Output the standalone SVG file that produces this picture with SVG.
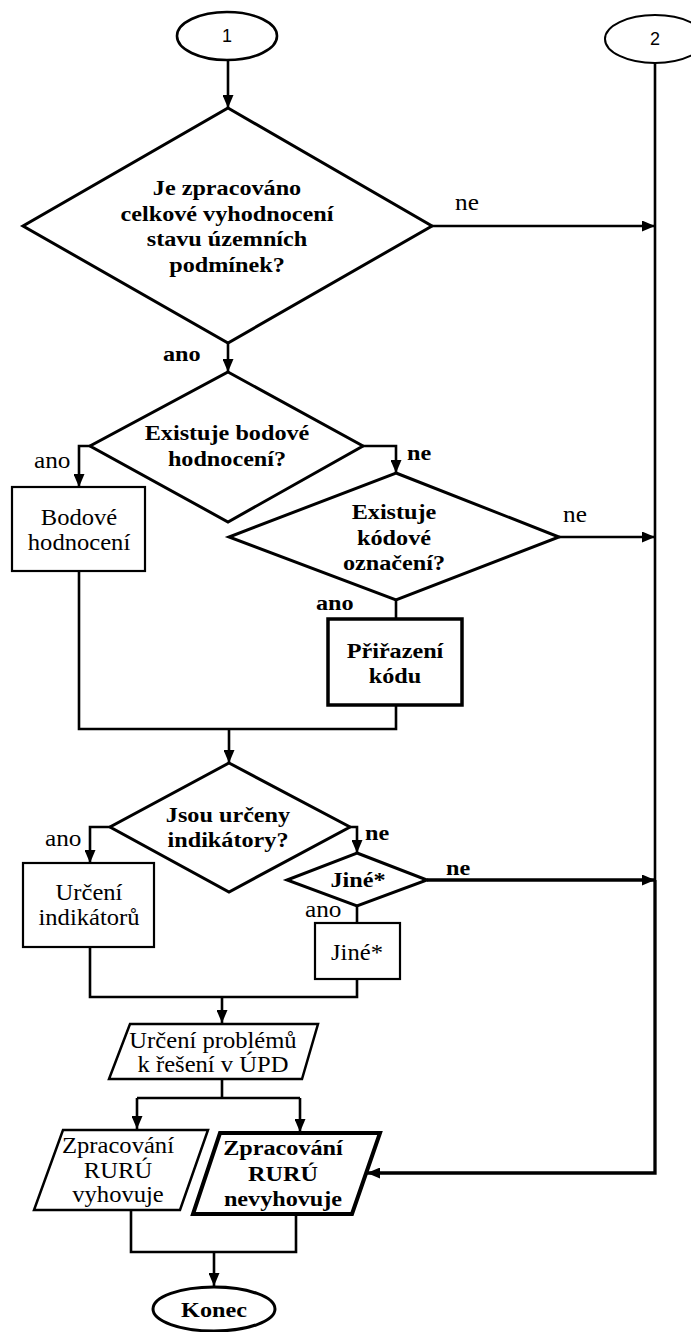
<svg xmlns="http://www.w3.org/2000/svg" width="691" height="1332" viewBox="0 0 691 1332">
  <style>
    .shape { fill: #fff; stroke: #000; stroke-linejoin: miter; }
    .t { font-family: "Liberation Serif", "Times New Roman", serif; font-size: 23px; fill: #000; text-anchor: middle; }
    .b { font-weight: bold; font-size: 22px; }
    .lbl { font-family: "Liberation Serif", "Times New Roman", serif; font-size: 23px; fill: #000; }
    .lbl.b { font-size: 22px; }
    .num { font-family: "Liberation Sans", Arial, sans-serif; font-size: 18px; fill: #000; text-anchor: middle; }
    .wire { fill: none; stroke: #000; stroke-width: 2.6; }
    .thick { stroke-width: 3.3; }
  </style>
  <defs>
    <marker id="arrow" markerUnits="userSpaceOnUse" markerWidth="13" markerHeight="11" refX="13" refY="5.5" orient="auto">
      <path d="M0,0 L13,5.5 L0,11 z" fill="#000"/>
    </marker>
  </defs>

  <!-- connectors -->
  <g id="connectors">
    <path class="wire" d="M228,60 V108" marker-end="url(#arrow)"/>
    <path class="wire" d="M432,226 H655" marker-end="url(#arrow)"/>
    <path class="wire" d="M228,343 V372" marker-end="url(#arrow)"/>
    <path class="wire" d="M90,446 H79 V487" marker-end="url(#arrow)"/>
    <path class="wire" d="M363,446 H396 V473" marker-end="url(#arrow)"/>
    <path class="wire" d="M559,537 H655" marker-end="url(#arrow)"/>
    <path class="wire" d="M396,600 V619"/>
    <path class="wire" d="M79,571 V729 H396 V705"/>
    <path class="wire" d="M229,729 V763" marker-end="url(#arrow)"/>
    <path class="wire" d="M110,827 H90 V863" marker-end="url(#arrow)"/>
    <path class="wire" d="M350,827 H357 V853" marker-end="url(#arrow)"/>
    <path class="wire thick" d="M427,880 H655" marker-end="url(#arrow)"/>
    <path class="wire" d="M357,906 V923"/>
    <path class="wire" d="M90,947 V997 H357 V979"/>
    <path class="wire" d="M222,997 V1023" marker-end="url(#arrow)"/>
    <path class="wire" d="M222,1079 V1098 M137,1098 H300"/>
    <path class="wire" d="M137,1098 V1129" marker-end="url(#arrow)"/>
    <path class="wire" d="M300,1098 V1132" marker-end="url(#arrow)"/>
    <path class="wire" d="M655,63 V880"/>
    <path class="wire thick" d="M655,880 V1173 H367" marker-end="url(#arrow)"/>
    <path class="wire" d="M131,1210 V1252 H296 V1214"/>
    <path class="wire" d="M214,1252 V1286" marker-end="url(#arrow)"/>
  </g>

  <!-- connector labels (type is set a little wide) -->
  <g id="labels">
    <text class="lbl" transform="translate(455,210) scale(1.1,1)">ne</text>
    <text class="lbl b" transform="translate(163,361) scale(1.1,1)">ano</text>
    <text class="lbl" transform="translate(34,468) scale(1.1,1)">ano</text>
    <text class="lbl b" transform="translate(407,460) scale(1.1,1)">ne</text>
    <text class="lbl" transform="translate(563,522) scale(1.1,1)">ne</text>
    <text class="lbl b" transform="translate(316,610) scale(1.1,1)">ano</text>
    <text class="lbl" transform="translate(45,846) scale(1.1,1)">ano</text>
    <text class="lbl b" transform="translate(365,840) scale(1.1,1)">ne</text>
    <text class="lbl b" transform="translate(446,875) scale(1.1,1)">ne</text>
    <text class="lbl" transform="translate(305,917) scale(1.1,1)">ano</text>
  </g>

  <g id="start1">
    <ellipse class="shape" cx="227" cy="36" rx="50" ry="24" stroke-width="2.6"/>
    <text class="num" x="227" y="42">1</text>
  </g>

  <g id="start2">
    <ellipse class="shape" cx="655" cy="39" rx="50" ry="24" stroke-width="2"/>
    <text class="num" x="655" y="45">2</text>
  </g>

  <g id="q-overall">
    <polygon class="shape" points="228,108 432,226 228,343 23,226" stroke-width="3"/>
    <text class="t b" transform="translate(227,195) scale(1.1,1)">Je zpracováno</text>
    <text class="t b" transform="translate(227,221) scale(1.1,1)">celkové vyhodnocení</text>
    <text class="t b" transform="translate(227,246) scale(1.1,1)">stavu územních</text>
    <text class="t b" transform="translate(227,272) scale(1.1,1)">podmínek?</text>
  </g>

  <g id="q-points">
    <polygon class="shape" points="228,372 363,446 228,522 90,446" stroke-width="3"/>
    <text class="t b" transform="translate(227,440) scale(1.1,1)">Existuje bodové</text>
    <text class="t b" transform="translate(227,466) scale(1.1,1)">hodnocení?</text>
  </g>

  <g id="points-eval">
    <rect class="shape" x="12" y="487" width="133" height="84" stroke-width="2.2"/>
    <text class="t" transform="translate(79,525) scale(1.07,1)">Bodové</text>
    <text class="t" transform="translate(79,550) scale(1.07,1)">hodnocení</text>
  </g>

  <g id="q-code">
    <polygon class="shape" points="396,473 559,537 396,600 229,537" stroke-width="3"/>
    <text class="t b" transform="translate(394,519) scale(1.1,1)">Existuje</text>
    <text class="t b" transform="translate(394,545) scale(1.1,1)">kódové</text>
    <text class="t b" transform="translate(394,570) scale(1.1,1)">označení?</text>
  </g>

  <g id="code-assign">
    <rect class="shape" x="328" y="619" width="134" height="86" stroke-width="3.5"/>
    <text class="t b" transform="translate(395,658) scale(1.1,1)">Přiřazení</text>
    <text class="t b" transform="translate(395,683) scale(1.1,1)">kódu</text>
  </g>

  <g id="q-indicators">
    <polygon class="shape" points="229,763 350,827 229,892 110,827" stroke-width="3"/>
    <text class="t b" transform="translate(228,822) scale(1.1,1)">Jsou určeny</text>
    <text class="t b" transform="translate(228,847) scale(1.1,1)">indikátory?</text>
  </g>

  <g id="indicators">
    <rect class="shape" x="23" y="863" width="131" height="84" stroke-width="2.2"/>
    <text class="t" transform="translate(89,900) scale(1.07,1)">Určení</text>
    <text class="t" transform="translate(89,925) scale(1.07,1)">indikátorů</text>
  </g>

  <g id="q-other">
    <polygon class="shape" points="357,853 427,880 357,906 287,880" stroke-width="3"/>
    <text class="t b" transform="translate(358,887) scale(1.1,1)">Jiné*</text>
  </g>

  <g id="other">
    <rect class="shape" x="315" y="923" width="85" height="56" stroke-width="2.2"/>
    <text class="t" transform="translate(357,960) scale(1.07,1)">Jiné*</text>
  </g>

  <g id="problems">
    <polygon class="shape" points="130,1024 318,1024 302,1079 109,1079" stroke-width="2.5"/>
    <text class="t" transform="translate(213,1048) scale(1.07,1)">Určení problémů</text>
    <text class="t" transform="translate(213,1072) scale(1.07,1)">k řešení v ÚPD</text>
  </g>

  <g id="ok">
    <polygon class="shape" points="63,1130 208,1130 180,1210 34,1210" stroke-width="2.5"/>
    <text class="t" transform="translate(118,1153) scale(1.07,1)">Zpracování</text>
    <text class="t" transform="translate(118,1178) scale(1.07,1)">RURÚ</text>
    <text class="t" transform="translate(118,1202) scale(1.07,1)">vyhovuje</text>
  </g>

  <g id="not-ok">
    <polygon class="shape" points="220,1133 380,1133 352,1214 193,1214" stroke-width="4"/>
    <text class="t b" transform="translate(283,1155) scale(1.1,1)">Zpracování</text>
    <text class="t b" transform="translate(283,1181) scale(1.1,1)">RURÚ</text>
    <text class="t b" transform="translate(283,1206) scale(1.1,1)">nevyhovuje</text>
  </g>

  <g id="end">
    <ellipse class="shape" cx="214" cy="1309" rx="61" ry="22" stroke-width="3"/>
    <text class="t b" transform="translate(214,1317) scale(1.1,1)">Konec</text>
  </g>
</svg>
